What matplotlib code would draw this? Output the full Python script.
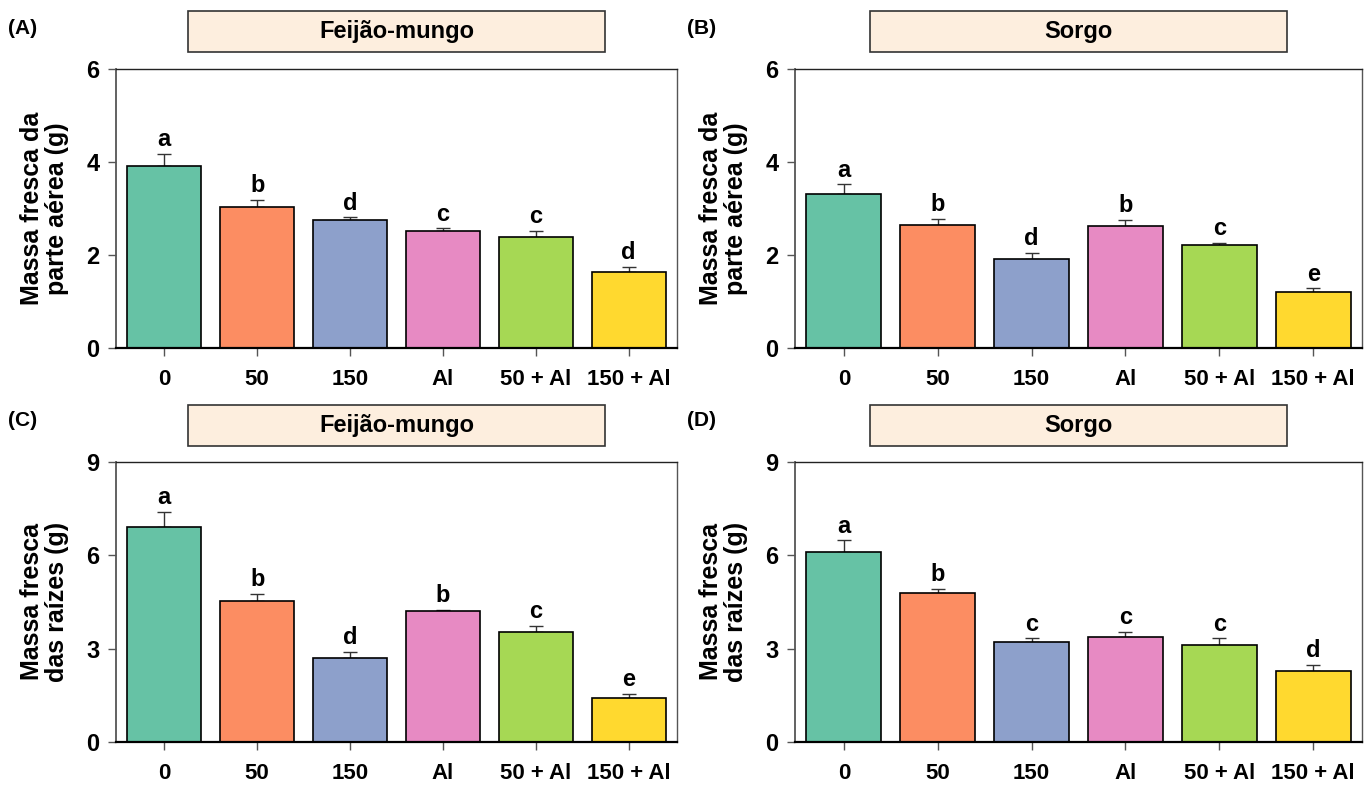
import matplotlib.pyplot as plt
from matplotlib.patches import Rectangle

plt.rcParams['font.family'] = ['Liberation Sans', 'DejaVu Sans']
plt.rcParams['font.weight'] = 'bold'

categories = ['0', '50', '150', 'Al', '50 + Al', '150 + Al']
colors = ['#66c2a5', '#fc8d62', '#8da0cb', '#e78ac3', '#a6d854', '#ffd92f']

shoot_mung = [3.92, 3.04, 2.75, 2.52, 2.38, 1.64]
shoot_mung_err = [0.25, 0.15, 0.06, 0.05, 0.13, 0.10]
shoot_mung_letters = ['a', 'b', 'd', 'c', 'c', 'd']

shoot_sorg = [3.32, 2.64, 1.91, 2.62, 2.21, 1.21]
shoot_sorg_err = [0.20, 0.13, 0.14, 0.13, 0.05, 0.07]
shoot_sorg_letters = ['a', 'b', 'd', 'b', 'c', 'e']

root_mung = [6.92, 4.53, 2.70, 4.20, 3.52, 1.42]
root_mung_err = [0.48, 0.22, 0.20, 0.05, 0.22, 0.13]
root_mung_letters = ['a', 'b', 'd', 'b', 'c', 'e']

root_sorg = [6.10, 4.80, 3.20, 3.38, 3.13, 2.28]
root_sorg_err = [0.38, 0.13, 0.13, 0.15, 0.20, 0.20]
root_sorg_letters = ['a', 'b', 'c', 'c', 'c', 'd']

W, H = 1371, 787
fig = plt.figure(figsize=(W / 100, H / 100), dpi=100)

panels = [
    ('(A)', 'Feijão-mungo', shoot_mung, shoot_mung_err, shoot_mung_letters,
     'Massa fresca da\nparte aérea (g)', 6, [0, 2, 4, 6], (116, 69, 677, 348), (188, 11, 605, 52)),
    ('(B)', 'Sorgo', shoot_sorg, shoot_sorg_err, shoot_sorg_letters,
     'Massa fresca da\nparte aérea (g)', 6, [0, 2, 4, 6], (795, 69, 1362, 348), (870, 11, 1287, 52)),
    ('(C)', 'Feijão-mungo', root_mung, root_mung_err, root_mung_letters,
     'Massa fresca\ndas raízes (g)', 9, [0, 3, 6, 9], (116, 462, 677, 742), (188, 405, 605, 446)),
    ('(D)', 'Sorgo', root_sorg, root_sorg_err, root_sorg_letters,
     'Massa fresca\ndas raízes (g)', 9, [0, 3, 6, 9], (795, 462, 1362, 742), (870, 405, 1287, 446)),
]

for label, title, vals, errs, letters, ylabel, ymax, yticks, ax_px, box_px in panels:
    x0, y0, x1, y1 = ax_px
    ax = fig.add_axes([x0 / W, 1 - y1 / H, (x1 - x0) / W, (y1 - y0) / H])
    x = list(range(len(categories)))
    ax.bar(x, vals, width=0.8, color=colors, edgecolor='black', linewidth=1.2, zorder=2)
    ax.errorbar(x, vals, yerr=[[0] * len(errs), errs], fmt='none', ecolor='#333333',
                elinewidth=1.0, capsize=5, capthick=1.0, zorder=1)
    for xi, v, e, l in zip(x, vals, errs, letters):
        ax.text(xi, v + e + ymax * 0.01, l, ha='center', va='bottom', fontsize=17, fontweight='bold')
    ax.set_xlim(-0.52, 5.52)
    ax.set_ylim(0, ymax)
    ax.set_yticks(yticks)
    ax.set_xticks(x)
    ax.set_xticklabels(categories, fontsize=16, fontweight='bold')
    ax.tick_params(axis='y', labelsize=17, length=6, width=1, color='#555555', direction='out', pad=6)
    ax.tick_params(axis='x', length=6, width=1, color='#555555', direction='out', pad=9)
    for t in ax.get_yticklabels():
        t.set_fontweight('bold')
    ax.spines['left'].set_linewidth(1.3)
    ax.spines['left'].set_color('#555555')
    ax.spines['bottom'].set_linewidth(1.6)
    ax.spines['bottom'].set_color('black')
    ax.spines['top'].set_linewidth(1.0)
    ax.spines['right'].set_linewidth(1.0)
    ax.spines['top'].set_color('#222222')
    ax.spines['right'].set_color('#555555')
    ax.set_ylabel(ylabel, fontsize=18, fontweight='bold', labelpad=12, linespacing=1.05)

    bx0, by0, bx1, by1 = box_px
    fig.patches.append(Rectangle((bx0 / W, 1 - by1 / H), (bx1 - bx0) / W, (by1 - by0) / H,
                                 transform=fig.transFigure, facecolor='#fdeede',
                                 edgecolor='#333333', linewidth=1.2))
    fig.text((bx0 + bx1) / 2 / W, 1 - (by0 + by1) / 2 / H, title, ha='center', va='center',
             fontsize=17, fontweight='bold')
    fig.text((x0 - 108) / W, 1 - (y0 - 41) / H, label, ha='left', va='center',
             fontsize=15, fontweight='bold')

fig.savefig('out.png', dpi=100)
